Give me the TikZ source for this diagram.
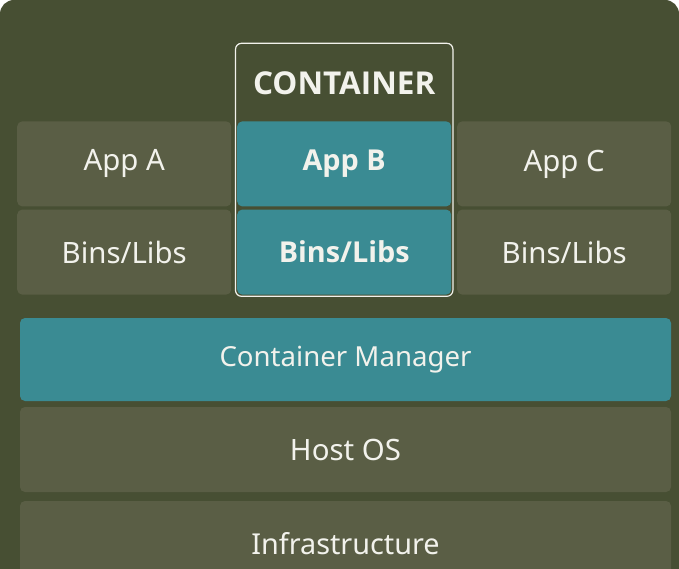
\documentclass[tikz,border=0pt]{standalone}
\usepackage{fontspec}
\setmainfont{Noto Sans}
\newfontfamily\strongfont{Open Sans}
\usetikzlibrary{fit,positioning}

\definecolor{olivebg}{HTML}{474F33}
\definecolor{olivebox}{HTML}{5A5E45}
\definecolor{tealbox}{HTML}{3A8B93}
\definecolor{paletext}{HTML}{F2F2EC}

\begin{document}
\begin{tikzpicture}[
  x=1pt,y=-1pt,
  every node/.style={align=center,text=paletext,font=\fontsize{29.4}{34}\selectfont},
  every matrix/.style={ampersand replacement=\&,column sep=6pt,row sep=3pt,inner sep=0pt},
  layer/.style={fill=olivebox,rounded corners=5pt,inner sep=0pt,
                minimum width=214pt,minimum height=85pt},
  boxed/.style={layer,fill=tealbox,font=\strongfont\fontsize{28.8}{34}\selectfont\bfseries},
  wide/.style={minimum width=651pt},
  frame/.style={draw=paletext,line width=1.2pt,rounded corners=6pt,inner sep=1.5pt}]

  % Background
  \fill[white] (0,0) rectangle (679,569);
  \clip (0,0) rectangle (679,569);
  \fill[olivebg,rounded corners=14pt] (0,0) rectangle (679,620);

  % The three stacks
  \matrix (stacks) at (17,121) [anchor=north west] {
    \node[layer] (appA) {App A}; \& \node[boxed] (appB) {App B}; \& \node[layer] (appC) {App C}; \\
    \node[layer] (binsA) {Bins/Libs}; \& \node[boxed] (binsB) {Bins/Libs}; \& \node[layer] (binsC) {Bins/Libs}; \\
  };

  % Container around the middle stack
  \node (title) [above=0pt of appB,minimum width=214pt,minimum height=76pt,inner sep=0pt,
                 font=\strongfont\fontsize{31.5}{36}\selectfont\bfseries] {CONTAINER};
  \node (container) [frame, fit = (title) (appB) (binsB)] {};

  % Layers below
  \node[layer,wide,fill=tealbox,minimum height=83pt,font=\fontsize{27.6}{32}\selectfont]
    (manager) at (345.5,359.5) {Container Manager};
  \node[layer,wide] (hostos) at (345.5,449.5) {Host OS};
  \node[layer,wide,font=\fontsize{28.8}{34}\selectfont] (infra) at (345.5,543.5) {Infrastructure};
\end{tikzpicture}
\end{document}
